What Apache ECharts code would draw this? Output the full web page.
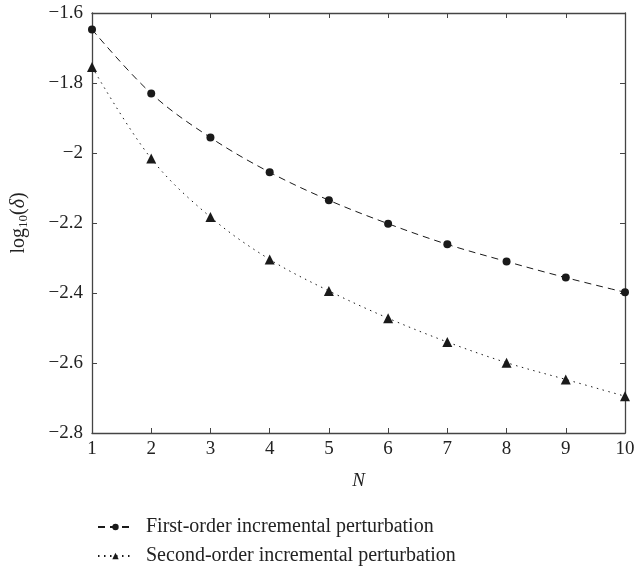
<!DOCTYPE html>
<html>
<head>
<meta charset="utf-8">
<script src="https://cdn.jsdelivr.net/npm/echarts@6/dist/echarts.min.js"></script>
<style>
html,body{margin:0;padding:0;background:#fff;}
#chart{width:634px;height:567px;}
</style>
</head>
<body>
<div id="chart"></div>
<script>
var nValues = [1, 2, 3, 4, 5, 6, 7, 8, 9, 10];
var firstOrder = [-1.647, -1.830, -1.956, -2.055, -2.135, -2.202, -2.261, -2.310, -2.356, -2.398];
var secondOrder = [-1.754, -2.016, -2.183, -2.304, -2.394, -2.472, -2.540, -2.599, -2.647, -2.695];
var seriesNames = ['First-order incremental perturbation', 'Second-order incremental perturbation'];

var FONT = '"Liberation Serif", "DejaVu Serif", serif';
var AXC = '#444';

function pairs(xs, ys) { return xs.map(function (x, i) { return [x, ys[i]]; }); }
function fmtY(v) { var s = String(Math.round(v * 10) / 10); return s.replace('-', '\u2212'); }

function legendFor(name, top) {
  return {
    orient: 'vertical', left: 92, top: top, itemWidth: 35, itemHeight: 8,
    data: [name],
    textStyle: { fontFamily: FONT, fontSize: 20, color: '#222', padding: [0, 0, 0, 8] }
  };
}

var chart = echarts.init(document.getElementById('chart'));
chart.setOption({
  animation: false,
  backgroundColor: '#fff',
  grid: { left: 92, right: 9, top: 13, bottom: 134, containLabel: false, outerBoundsMode: 'none' },
  legend: [legendFor(seriesNames[0], 512), legendFor(seriesNames[1], 541)],
  xAxis: [{
    type: 'value', min: 1, max: 10, interval: 1, position: 'bottom',
    name: 'N', nameLocation: 'middle', nameGap: 38,
    nameTextStyle: { fontFamily: FONT, fontSize: 19, fontStyle: 'italic', color: '#222' },
    axisLine: { lineStyle: { color: AXC, width: 1.3 } },
    axisTick: { inside: true, length: 5, lineStyle: { color: AXC } },
    axisLabel: { fontFamily: FONT, fontSize: 19, color: '#222', margin: 7 },
    splitLine: { show: false }
  }, {
    type: 'value', min: 1, max: 10, interval: 1, position: 'top',
    axisLine: { show: true, lineStyle: { color: AXC, width: 1.3 } },
    axisTick: { inside: true, length: 5, lineStyle: { color: AXC } },
    axisLabel: { show: false }, splitLine: { show: false }
  }],
  yAxis: [{
    type: 'value', min: -2.8, max: -1.6, interval: 0.2, position: 'left',
    name: '{a|log}{s|10}{a|(}{i|\u03b4}{a|)}', nameLocation: 'middle', nameGap: 62, nameRotate: 90,
    nameTextStyle: {
      rich: {
        a: { fontFamily: FONT, fontSize: 20, color: '#222' },
        s: { fontFamily: FONT, fontSize: 13, color: '#222', verticalAlign: 'bottom', padding: [10, 0, 0, 0] },
        i: { fontFamily: FONT, fontSize: 20, fontStyle: 'italic', color: '#222' }
      }
    },
    axisLine: { show: true, lineStyle: { color: AXC, width: 1.3 } },
    axisTick: { inside: true, length: 5, lineStyle: { color: AXC } },
    axisLabel: { fontFamily: FONT, fontSize: 19, color: '#222', margin: 9, formatter: fmtY },
    splitLine: { show: false }
  }, {
    type: 'value', min: -2.8, max: -1.6, interval: 0.2, position: 'right',
    axisLine: { show: true, lineStyle: { color: AXC, width: 1.3 } },
    axisTick: { inside: true, length: 5, lineStyle: { color: AXC } },
    axisLabel: { show: false }, splitLine: { show: false }
  }],
  series: [{
    name: seriesNames[0], type: 'line', smooth: 0.35,
    data: pairs(nValues, firstOrder),
    symbol: 'circle', symbolSize: 8,
    itemStyle: { color: '#1a1a1a' },
    lineStyle: { color: '#1a1a1a', width: 1, type: [7, 5] }
  }, {
    name: seriesNames[1], type: 'line', smooth: 0.35,
    data: pairs(nValues, secondOrder),
    symbol: 'triangle', symbolSize: 10,
    itemStyle: { color: '#1a1a1a' },
    lineStyle: { color: '#1a1a1a', width: 1, type: [1.5, 4.5] }
  }]
});
</script>
</body>
</html>
